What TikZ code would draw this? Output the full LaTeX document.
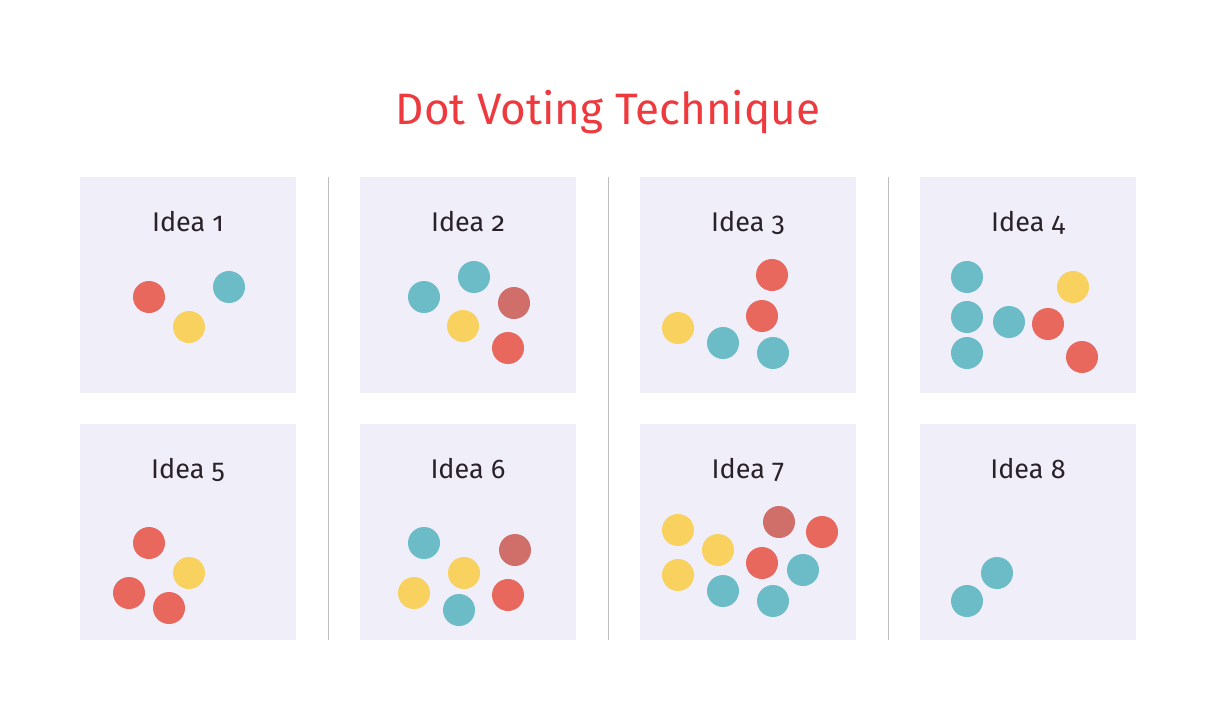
\documentclass[tikz,border=0pt]{standalone}
\usepackage{fontspec}
\setmainfont[Numbers=OldStyle]{Fira Sans}
\usepackage{xcolor}
\usepackage{tikz}
\usetikzlibrary{positioning}

\definecolor{titlered}{HTML}{EE3A3F}
\definecolor{cardbg}{HTML}{EFEEF9}
\definecolor{sepgray}{HTML}{BDBDBD}
\definecolor{inkdark}{HTML}{2B2229}
\definecolor{dotred}{HTML}{E8685D}
\definecolor{dotbrick}{HTML}{D06F69}
\definecolor{dotyellow}{HTML}{F9D15F}
\definecolor{dotteal}{HTML}{6CBCC8}

\tikzset{
  card/.style={fill=cardbg, minimum width=216, minimum height=216, inner sep=0, anchor=north west},
  idea/.style={text=inkdark, font=\fontsize{27}{30}\selectfont, anchor=base},
  sepline/.style={draw=sepgray, line width=0.8pt},
  red/.style={fill=dotred},
  brick/.style={fill=dotbrick},
  yellow/.style={fill=dotyellow},
  teal/.style={fill=dotteal}
}

\begin{document}
\begin{tikzpicture}[x=1pt, y=-1pt]
    \useasboundingbox (0,0) rectangle (1216,720);
    \fill[white] (0,0) rectangle (1216,720);

    % title
    \node[text=titlered, font=\fontsize{44}{50}\selectfont, anchor=base] (title) at (608,124) {Dot Voting Technique};

    % column separators
    \draw[sepline] (328,177) -- (328,640);
    \draw[sepline] (608,177) -- (608,640);
    \draw[sepline] (888,177) -- (888,640);

    % Idea 1
    \begin{scope}[shift={(80,177)}]
    \node[card] (card1) at (0,0) {};
    \node[idea] (idea1) at (108,54) {Idea 1};
    \fill[red] (69,120) circle (16pt);
    \fill[yellow] (109,150) circle (16pt);
    \fill[teal] (149,110) circle (16pt);
    \end{scope}

    % Idea 2
    \begin{scope}[shift={(360,177)}]
    \node[card] (card2) at (0,0) {};
    \node[idea] (idea2) at (108,54) {Idea 2};
    \fill[teal] (64,120) circle (16pt);
    \fill[teal] (114,100) circle (16pt);
    \fill[brick] (154,126) circle (16pt);
    \fill[yellow] (103,149) circle (16pt);
    \fill[red] (148,171) circle (16pt);
    \end{scope}

    % Idea 3
    \begin{scope}[shift={(640,177)}]
    \node[card] (card3) at (0,0) {};
    \node[idea] (idea3) at (108,54) {Idea 3};
    \fill[red] (132,98) circle (16pt);
    \fill[red] (122,139) circle (16pt);
    \fill[yellow] (38,151) circle (16pt);
    \fill[teal] (83,166) circle (16pt);
    \fill[teal] (133,176) circle (16pt);
    \end{scope}

    % Idea 4
    \begin{scope}[shift={(920,177)}]
    \node[card] (card4) at (0,0) {};
    \node[idea] (idea4) at (108,54) {Idea 4};
    \fill[teal] (47,100) circle (16pt);
    \fill[teal] (47,140) circle (16pt);
    \fill[teal] (47,176) circle (16pt);
    \fill[teal] (89,145) circle (16pt);
    \fill[yellow] (153,110) circle (16pt);
    \fill[red] (128,147) circle (16pt);
    \fill[red] (162,180) circle (16pt);
    \end{scope}

    % Idea 5
    \begin{scope}[shift={(80,424)}]
    \node[card] (card5) at (0,0) {};
    \node[idea] (idea5) at (108,54) {Idea 5};
    \fill[red] (69,119) circle (16pt);
    \fill[yellow] (109,149) circle (16pt);
    \fill[red] (49,169) circle (16pt);
    \fill[red] (89,184) circle (16pt);
    \end{scope}

    % Idea 6
    \begin{scope}[shift={(360,424)}]
    \node[card] (card6) at (0,0) {};
    \node[idea] (idea6) at (108,54) {Idea 6};
    \fill[teal] (64,119) circle (16pt);
    \fill[brick] (155,126) circle (16pt);
    \fill[yellow] (104,149) circle (16pt);
    \fill[yellow] (54,169) circle (16pt);
    \fill[teal] (99,186) circle (16pt);
    \fill[red] (148,171) circle (16pt);
    \end{scope}

    % Idea 7
    \begin{scope}[shift={(640,424)}]
    \node[card] (card7) at (0,0) {};
    \node[idea] (idea7) at (108,54) {Idea 7};
    \fill[yellow] (38,106) circle (16pt);
    \fill[yellow] (78,126) circle (16pt);
    \fill[yellow] (38,151) circle (16pt);
    \fill[brick] (139,98) circle (16pt);
    \fill[red] (182,108) circle (16pt);
    \fill[red] (122,139) circle (16pt);
    \fill[teal] (163,146) circle (16pt);
    \fill[teal] (83,167) circle (16pt);
    \fill[teal] (133,177) circle (16pt);
    \end{scope}

    % Idea 8
    \begin{scope}[shift={(920,424)}]
    \node[card] (card8) at (0,0) {};
    \node[idea] (idea8) at (108,54) {Idea 8};
    \fill[teal] (77,149) circle (16pt);
    \fill[teal] (47,177) circle (16pt);
    \end{scope}
\end{tikzpicture}
\end{document}
